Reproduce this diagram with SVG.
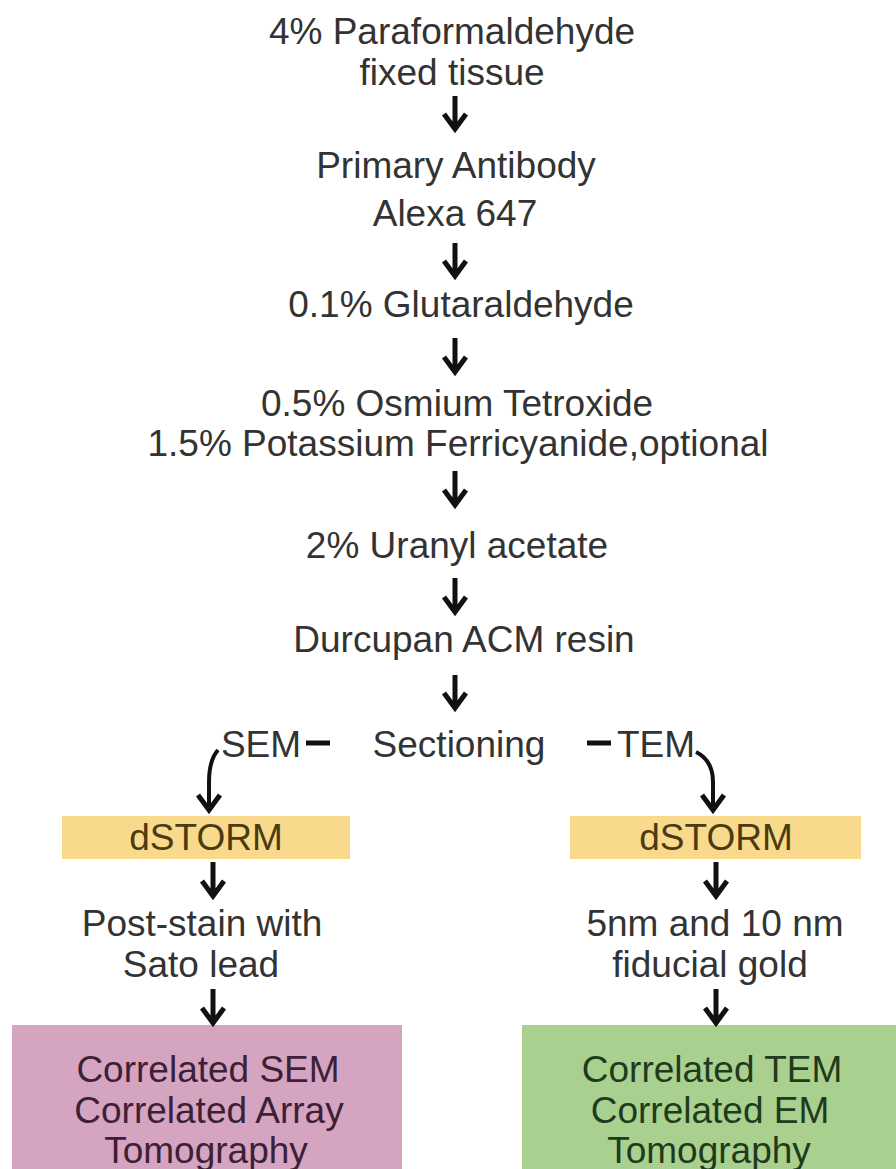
<svg xmlns="http://www.w3.org/2000/svg" width="896" height="1169" viewBox="0 0 896 1169">
<style>
text{font-family:"Liberation Sans",Arial,sans-serif;font-size:37px;text-anchor:middle;fill:#333}
.dst{fill:#4a3b12}
.pk{fill:#3d1f36}
.gr{fill:#1f3b1c}
.arr{fill:none;stroke:#111;stroke-width:5;stroke-linecap:butt;stroke-linejoin:miter}
.cur{fill:none;stroke:#111;stroke-width:4}
.dash{stroke:#111;stroke-width:5}
</style>
<rect width="896" height="1169" fill="#fff"/>
<g id="n1"><text x="452" y="44">4% Paraformaldehyde</text><text x="452" y="85">fixed tissue</text></g>
<g id="n2"><text x="456" y="178">Primary Antibody</text><text x="455" y="226">Alexa 647</text></g>
<g id="n3"><text x="461" y="317">0.1% Glutaraldehyde</text></g>
<g id="n4"><text x="457" y="416">0.5% Osmium Tetroxide</text><text x="458" y="456">1.5% Potassium Ferricyanide,optional</text></g>
<g id="n5"><text x="457" y="558">2% Uranyl acetate</text></g>
<g id="n6"><text x="464" y="652">Durcupan ACM resin</text></g>
<g id="n7"><text x="459" y="757">Sectioning</text></g>
<g id="lblSEM"><text x="261" y="757">SEM</text><line class="dash" x1="306" y1="743" x2="330" y2="743"/></g>
<g id="lblTEM"><line class="dash" x1="587" y1="743" x2="611" y2="743"/><text x="656" y="757">TEM</text></g>
<g id="dL"><rect x="62" y="816" width="288" height="43" fill="#f9da8c"/><text class="dst" x="206" y="850">dSTORM</text></g>
<g id="dR"><rect x="570" y="816" width="291" height="43" fill="#f9da8c"/><text class="dst" x="716" y="850">dSTORM</text></g>
<g id="pL"><text x="202" y="936">Post-stain with</text><text x="201" y="977">Sato lead</text></g>
<g id="pR"><text x="715" y="936">5nm and 10 nm</text><text x="710" y="977">fiducial gold</text></g>
<g id="fL"><rect x="12" y="1025" width="390" height="144" fill="#d4a4c1"/><text class="pk" x="208" y="1082">Correlated SEM</text><text class="pk" x="209" y="1123">Correlated Array</text><text class="pk" x="206" y="1163">Tomography</text></g>
<g id="fR"><rect x="522" y="1025" width="374" height="144" fill="#a9d08f"/><text class="gr" x="712" y="1082">Correlated TEM</text><text class="gr" x="710" y="1123">Correlated EM</text><text class="gr" x="709" y="1163">Tomography</text></g>
<g id="connectors">
<path class="arr" d="M455 96V129M444 114L455 129L466 114"/>
<path class="arr" d="M455 243V276M444 261L455 276L466 261"/>
<path class="arr" d="M455 338V372M444 357L455 372L466 357"/>
<path class="arr" d="M455 471V505M444 490L455 505L466 490"/>
<path class="arr" d="M455 578V612M444 597L455 612L466 597"/>
<path class="arr" d="M455 675V708M444 693L455 708L466 693"/>
<path class="cur" d="M218 750C211 758 209 768 209 782V808"/>
<path class="arr" d="M198 795L209 810L220 795"/>
<path class="cur" d="M696 752C708 758 713 768 713 782V808"/>
<path class="arr" d="M702 795L713 810L724 795"/>
<path class="arr" d="M213 862V896M202 881L213 896L224 881"/>
<path class="arr" d="M716 862V896M705 881L716 896L727 881"/>
<path class="arr" d="M213 989V1023M202 1008L213 1023L224 1008"/>
<path class="arr" d="M716 989V1023M705 1008L716 1023L727 1008"/>
</g>
</svg>
